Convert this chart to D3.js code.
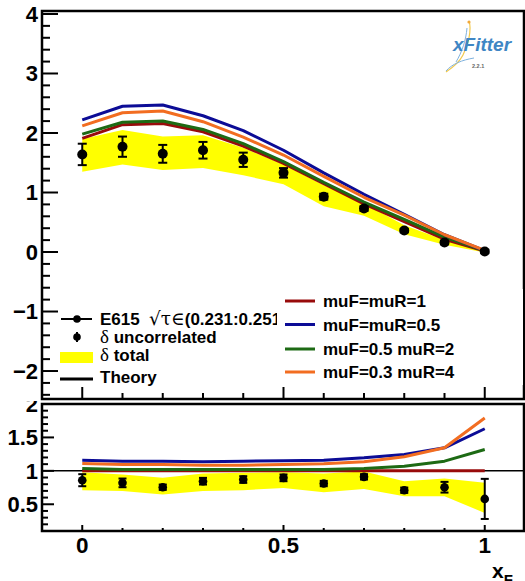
<!DOCTYPE html>
<html>
<head>
<meta charset="utf-8">
<script src="https://cdn.jsdelivr.net/npm/d3@7"></script>
<style>
  html, body { margin: 0; padding: 0; background: #fff; }
  svg { display: block; }
  text { font-family: "Liberation Sans", Arial, Helvetica, sans-serif; font-weight: bold; fill: #000; }
</style>
</head>
<body>
<svg id="chart" width="525" height="581"></svg>
<script>
// ---------------- data ----------------
const xVals = [0, 0.1, 0.2, 0.3, 0.4, 0.5, 0.6, 0.7, 0.8, 0.9, 1.0];

// top panel: E615 data
const dataTop      = [1.64, 1.77, 1.65, 1.71, 1.55, 1.33, 0.93, 0.73, 0.36, 0.16, 0.01];
const errUncorTop  = [0.18, 0.17, 0.15, 0.14, 0.12, 0.08, 0.05, 0.04, 0.03, 0.03, 0.03];
const bandLoTop    = [1.35, 1.47, 1.38, 1.41, 1.29, 1.14, 0.77, 0.61, 0.30, 0.12, -0.01];
const bandHiTop    = [1.90, 2.05, 1.94, 1.96, 1.75, 1.47, 1.12, 0.82, 0.45, 0.20, 0.03];

// top panel: theory curves
const thMu1     = [1.91, 2.14, 2.16, 2.02, 1.78, 1.49, 1.15, 0.81, 0.51, 0.215, 0.015];
const thMu05    = [2.22, 2.45, 2.47, 2.29, 2.04, 1.71, 1.33, 0.97, 0.635, 0.29, 0.025];
const thF05R2   = [1.98, 2.18, 2.20, 2.06, 1.82, 1.52, 1.17, 0.84, 0.55, 0.25, 0.02];
const thF03R4   = [2.12, 2.34, 2.37, 2.19, 1.93, 1.63, 1.27, 0.92, 0.62, 0.29, 0.027];

// ratio panel
const ratioData     = [0.86, 0.82, 0.755, 0.845, 0.87, 0.895, 0.81, 0.91, 0.71, 0.755, 0.58];
const ratioErrUncor = [0.09, 0.065, 0.04, 0.05, 0.05, 0.05, 0.04, 0.04, 0.04, 0.08, 0.30];
const ratioBandLo   = [0.71, 0.70, 0.645, 0.70, 0.71, 0.745, 0.68, 0.73, 0.62, 0.62, 0.37];
const ratioBandHi   = [0.98, 0.945, 0.895, 0.96, 0.97, 0.98, 0.96, 0.99, 0.845, 0.885, 0.82];
const ratioMu1      = [1, 1, 1, 1, 1, 1, 1, 1, 1, 1, 1];
const ratioMu05     = [1.16, 1.145, 1.145, 1.135, 1.145, 1.15, 1.16, 1.195, 1.245, 1.345, 1.63];
const ratioF05R2    = [1.035, 1.02, 1.02, 1.02, 1.02, 1.02, 1.02, 1.035, 1.07, 1.145, 1.32];
const ratioF03R4    = [1.11, 1.095, 1.095, 1.085, 1.085, 1.095, 1.105, 1.135, 1.21, 1.345, 1.79];

// ticks / labels
const yTicksTop    = [-2, -1, 0, 1, 2, 3, 4];
const yTicksBottom = [0.5, 1, 1.5, 2];
const xTicks       = [0, 0.5, 1];
const curveNames   = ["muF=muR=1", "muF=muR=0.5", "muF=0.5 muR=2", "muF=0.3 muR=4"];
const curveColors  = ["#980b0b", "#0c0c96", "#1d6a14", "#f26d21"];

// ---------------- layout ----------------
const svg = d3.select("#chart");
const L = 42, R = 524;
const topT = 11, topB = 399;
const botT = 404, botB = 531;

const x = d3.scaleLinear().domain([-0.1, 1.1]).range([42, 525]);
const yTop = d3.scaleLinear().domain([-2.47, 4.05]).range([topB, topT]);
const yBot = d3.scaleLinear().domain([0.1, 2.0]).range([botB, botT]);

const defs = svg.append("defs");
defs.append("clipPath").attr("id", "clipTop").append("rect")
  .attr("x", L).attr("y", topT).attr("width", R - L).attr("height", topB - topT);
defs.append("clipPath").attr("id", "clipBot").append("rect")
  .attr("x", L).attr("y", botT).attr("width", R - L).attr("height", botB - botT);
defs.append("clipPath").attr("id", "clipBotLabels").append("rect")
  .attr("x", 0).attr("y", 401).attr("width", 525).attr("height", 180);

const YELLOW = "#ffff00";

function drawPanel(g, y, bandLo, bandHi, curves, data, err, dotR, capW) {
  const pts = xVals.map((d, i) => ({ x: d, lo: bandLo[i], hi: bandHi[i] }));
  g.append("path")
    .attr("d", d3.area().x(d => x(d.x)).y0(d => y(d.lo)).y1(d => y(d.hi))(pts))
    .attr("fill", YELLOW);
  const line = d3.line().x(d => x(d[0])).y(d => y(d[1]));
  const order = [0, 2, 1, 3];
  order.forEach(ci => {
    g.append("path")
      .attr("d", line(xVals.map((d, i) => [d, curves[ci][i]])))
      .attr("fill", "none").attr("stroke", curveColors[ci]).attr("stroke-width", 3)
      .attr("stroke-linejoin", "round");
  });
  const pg = g.append("g");
  xVals.forEach((d, i) => {
    const cx = x(d), cy = y(data[i]);
    const y1 = y(data[i] + err[i]), y2 = y(data[i] - err[i]);
    pg.append("line").attr("x1", cx).attr("x2", cx).attr("y1", y1).attr("y2", y2)
      .attr("stroke", "#000").attr("stroke-width", 2);
    [y1, y2].forEach(yy => pg.append("line")
      .attr("x1", cx - capW / 2).attr("x2", cx + capW / 2).attr("y1", yy).attr("y2", yy)
      .attr("stroke", "#000").attr("stroke-width", 2));
    pg.append("circle").attr("cx", cx).attr("cy", cy).attr("r", dotR).attr("fill", "#000");
  });
}

// ---------------- top panel ----------------
const gTop = svg.append("g").attr("clip-path", "url(#clipTop)");
drawPanel(gTop, yTop, bandLoTop, bandHiTop, [thMu1, thMu05, thF05R2, thF03R4],
  dataTop, errUncorTop, 5, 9);

// ---------------- bottom panel ----------------
const gBot = svg.append("g").attr("clip-path", "url(#clipBot)");
gBot.append("line").attr("x1", L).attr("x2", R).attr("y1", yBot(1)).attr("y2", yBot(1))
  .attr("stroke", "#000").attr("stroke-width", 1.5);
drawPanel(gBot, yBot, ratioBandLo, ratioBandHi, [ratioMu1, ratioMu05, ratioF05R2, ratioF03R4],
  ratioData, ratioErrUncor, 4.3, 8);

// ---------------- frames & ticks ----------------
function frame(t, b) {
  svg.append("rect").attr("x", L).attr("y", t).attr("width", R - L).attr("height", b - t)
    .attr("fill", "none").attr("stroke", "#000").attr("stroke-width", 2.5);
}
frame(topT, topB);
frame(botT, botB);

const tickG = svg.append("g").attr("stroke", "#000").attr("stroke-width", 2);
d3.range(-2.4, 4.01, 0.2).forEach(v => {
  v = Math.round(v * 10) / 10;
  const major = Math.abs(v - Math.round(v)) < 1e-6;
  tickG.append("line").attr("x1", L).attr("x2", L + (major ? 16 : 8))
    .attr("y1", yTop(v)).attr("y2", yTop(v));
});
d3.range(0.1, 2.001, 0.1).forEach(v => {
  v = Math.round(v * 10) / 10;
  const major = Math.abs(v * 2 - Math.round(v * 2)) < 1e-6;
  tickG.append("line").attr("x1", L).attr("x2", L + (major ? 12 : 6))
    .attr("y1", yBot(v)).attr("y2", yBot(v));
});
d3.range(0, 1.001, 0.1).forEach(v => {
  v = Math.round(v * 10) / 10;
  const major = Math.abs(v * 2 - Math.round(v * 2)) < 1e-6;
  tickG.append("line").attr("x1", x(v)).attr("x2", x(v))
    .attr("y1", topB).attr("y2", topB - (major ? 12 : 6));
  tickG.append("line").attr("x1", x(v)).attr("x2", x(v))
    .attr("y1", botB).attr("y2", botB - (major ? 6 : 3));
});

// tick labels
const fmtMinus = v => (v < 0 ? "\u2212" + Math.abs(v) : String(v));
svg.append("g").selectAll("text").data(yTicksTop).join("text")
  .attr("x", 38).attr("y", d => yTop(d)).attr("dy", "0.36em")
  .attr("text-anchor", "end").attr("font-size", 22).text(fmtMinus);
svg.append("g").attr("clip-path", "url(#clipBotLabels)")
  .selectAll("text").data(yTicksBottom).join("text")
  .attr("x", 38).attr("y", d => yBot(d)).attr("dy", "0.36em")
  .attr("text-anchor", "end").attr("font-size", 22).text(d => String(d));
svg.append("g").selectAll("text").data(xTicks).join("text")
  .attr("x", d => x(d)).attr("y", 553)
  .attr("text-anchor", "middle").attr("font-size", 22.5).text(d => String(d));

// axis title x_F
const xt = svg.append("text").attr("x", 492).attr("y", 578).attr("font-size", 21);
xt.append("tspan").text("x");
xt.append("tspan").attr("font-size", 15).attr("dy", 7).text("F");

// ---------------- left legend ----------------
const lg = svg.append("g");
const lfs = 17;
lg.append("line").attr("x1", 61).attr("x2", 92).attr("y1", 319).attr("y2", 319)
  .attr("stroke", "#000").attr("stroke-width", 2);
lg.append("circle").attr("cx", 77).attr("cy", 319).attr("r", 3.8).attr("fill", "#000");
const t1 = lg.append("text").attr("x", 100).attr("y", 325).attr("font-size", lfs);
t1.append("tspan").text("E615");
t1.append("tspan").attr("x", 149).attr("font-family", "DejaVu Serif, serif").attr("font-weight", "normal")
  .attr("font-size", 18.5).text("\u221A\u03C4\u2208");
t1.append("tspan").text("(0.231:0.251)");
lg.append("line").attr("x1", 77).attr("x2", 77).attr("y1", 332).attr("y2", 342)
  .attr("stroke", "#000").attr("stroke-width", 2);
lg.append("circle").attr("cx", 77).attr("cy", 337).attr("r", 3.8).attr("fill", "#000");
const t2 = lg.append("text").attr("x", 100).attr("y", 343).attr("font-size", lfs);
t2.append("tspan").attr("font-family", "Liberation Serif, DejaVu Serif, serif").attr("font-weight", "normal")
  .attr("font-size", 19).text("\u03B4");
t2.append("tspan").text(" uncorrelated");
lg.append("rect").attr("x", 60).attr("y", 352).attr("width", 33).attr("height", 11).attr("fill", YELLOW);
const t3 = lg.append("text").attr("x", 100).attr("y", 361).attr("font-size", lfs);
t3.append("tspan").attr("font-family", "Liberation Serif, DejaVu Serif, serif").attr("font-weight", "normal")
  .attr("font-size", 19).text("\u03B4");
t3.append("tspan").text(" total");
lg.append("line").attr("x1", 60).attr("x2", 93).attr("y1", 379).attr("y2", 379)
  .attr("stroke", "#000").attr("stroke-width", 3);
lg.append("text").attr("x", 100).attr("y", 383).attr("font-size", lfs).text("Theory");

// ---------------- right legend ----------------
const rg = svg.append("g");
rg.append("rect").attr("x", 277).attr("y", 289).attr("width", 246).attr("height", 96).attr("fill", "#fff");
const rowY = [301, 324.5, 349, 372];
curveNames.forEach((name, i) => {
  rg.append("line").attr("x1", 285).attr("x2", 315).attr("y1", rowY[i]).attr("y2", rowY[i])
    .attr("stroke", curveColors[i]).attr("stroke-width", 3);
  rg.append("text").attr("x", 323).attr("y", rowY[i] + 6).attr("font-size", lfs).text(name);
});

// ---------------- xFitter logo ----------------
const logo = svg.append("g");
logo.append("path").attr("d", "M469,21 C472,30 468,45 463,55 C459,63 452,68 446,72")
  .attr("fill", "none").attr("stroke", "#f2c94c").attr("stroke-width", 1.2);
logo.append("path").attr("d", "M467,28 C466,40 462,52 456,62")
  .attr("fill", "none").attr("stroke", "#7fb2de").attr("stroke-width", 1);
logo.append("path").attr("d", "M446,71 C452,64 462,60 474,58")
  .attr("fill", "none").attr("stroke", "#7fb2de").attr("stroke-width", 1);
logo.append("circle").attr("cx", 469).attr("cy", 22).attr("r", 1.6).attr("fill", "#f2a93b");
logo.append("text").attr("x", 453).attr("y", 51).attr("font-size", 19)
  .attr("font-style", "italic").attr("font-weight", "normal")
  .style("fill", "#3f86c4").text("xFitter");
logo.append("text").attr("x", 472).attr("y", 68).attr("font-size", 5.5)
  .attr("font-weight", "normal").style("fill", "#666").text("2.2.1");
</script>
</body>
</html>
